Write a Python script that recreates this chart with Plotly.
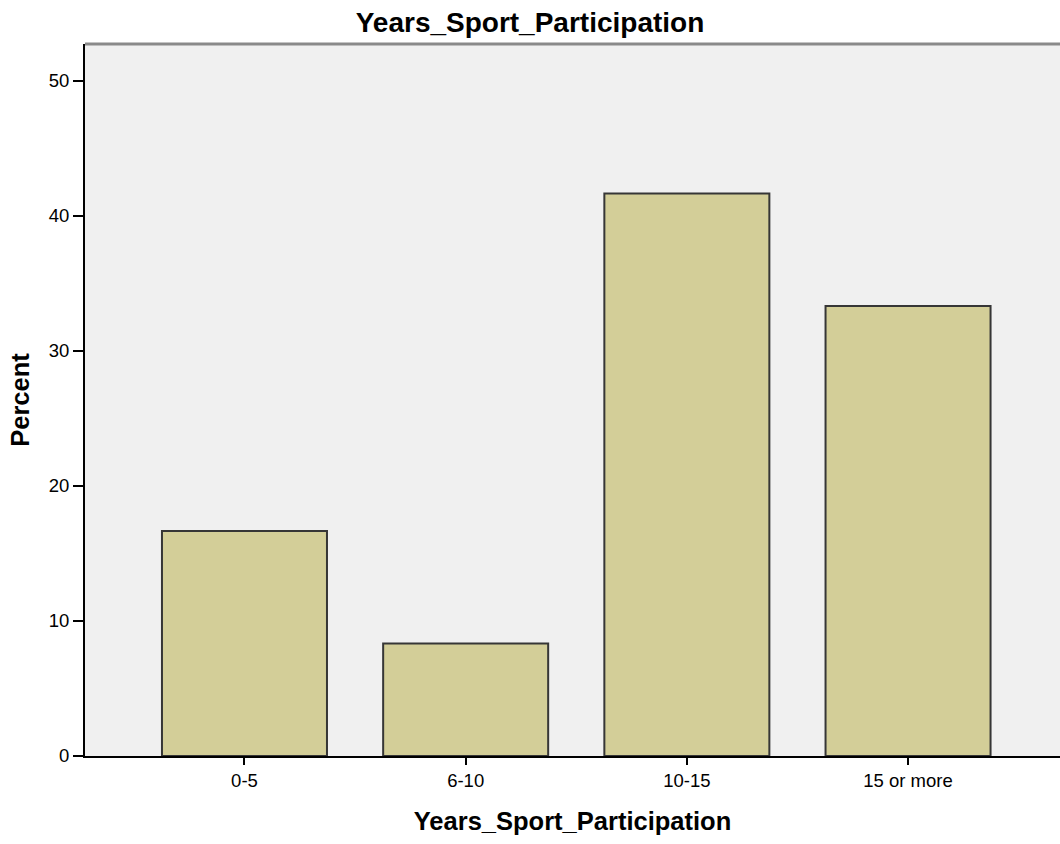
import plotly.graph_objects as go

categories = ["0-5", "6-10", "10-15", "15 or more"]
percent = [16.67, 8.33, 41.67, 33.33]
y_ticks = [0, 10, 20, 30, 40, 50]
title_text = "Years_Sport_Participation"
x_title = "Years_Sport_Participation"
y_title = "Percent"

FONT = "Liberation Sans, Arial, sans-serif"

W, H = 1060, 844

fig = go.Figure()
fig.add_trace(go.Bar(
    x=categories,
    y=percent,
    width=0.746,
    marker=dict(color="#D3CE98", line=dict(color="#363636", width=2)),
    hoverinfo="skip",
))

fig.update_layout(
    width=W,
    height=H,
    margin=dict(l=85, r=0, t=44, b=88),
    paper_bgcolor="white",
    plot_bgcolor="#F0F0F0",
    showlegend=False,
    font=dict(family=FONT, color="black"),
    title=dict(
        text="<b>%s</b>" % title_text,
        x=0.5, xref="container", xanchor="center",
        y=1 - 22 / H, yref="container", yanchor="middle",
        font=dict(size=28, family=FONT, color="black"),
    ),
    xaxis=dict(
        type="category",
        range=[-0.721, 3.687],
        showline=True, linecolor="black", linewidth=2,
        ticks="outside", ticklen=7, tickwidth=2, tickcolor="black",
        tickfont=dict(size=18.5, family=FONT, color="black"),
        showgrid=False, zeroline=False,
        title=dict(text="<b>%s</b>" % x_title, standoff=22,
                   font=dict(size=25.5, family=FONT, color="black")),
    ),
    yaxis=dict(
        range=[0, 52.74],
        tickvals=y_ticks,
        showline=True, linecolor="black", linewidth=2,
        ticks="outside", ticklen=10, tickwidth=2, tickcolor="black",
        tickfont=dict(size=18.5, family=FONT, color="black"),
        showgrid=False, zeroline=False,
        title=dict(text="<b>%s</b>" % y_title, standoff=12,
                   font=dict(size=25.5, family=FONT, color="black")),
    ),
    shapes=[dict(type="line", xref="paper", yref="paper", x0=0, x1=1, y0=1, y1=1,
                 line=dict(color="#8a8a8a", width=3))],
)

# remove the browser's default 8px body margin so the 1060x844 figure fills the window
fig.write_html("out.html", config={"displayModeBar": False},
               post_script="document.body.style.margin='0';")
